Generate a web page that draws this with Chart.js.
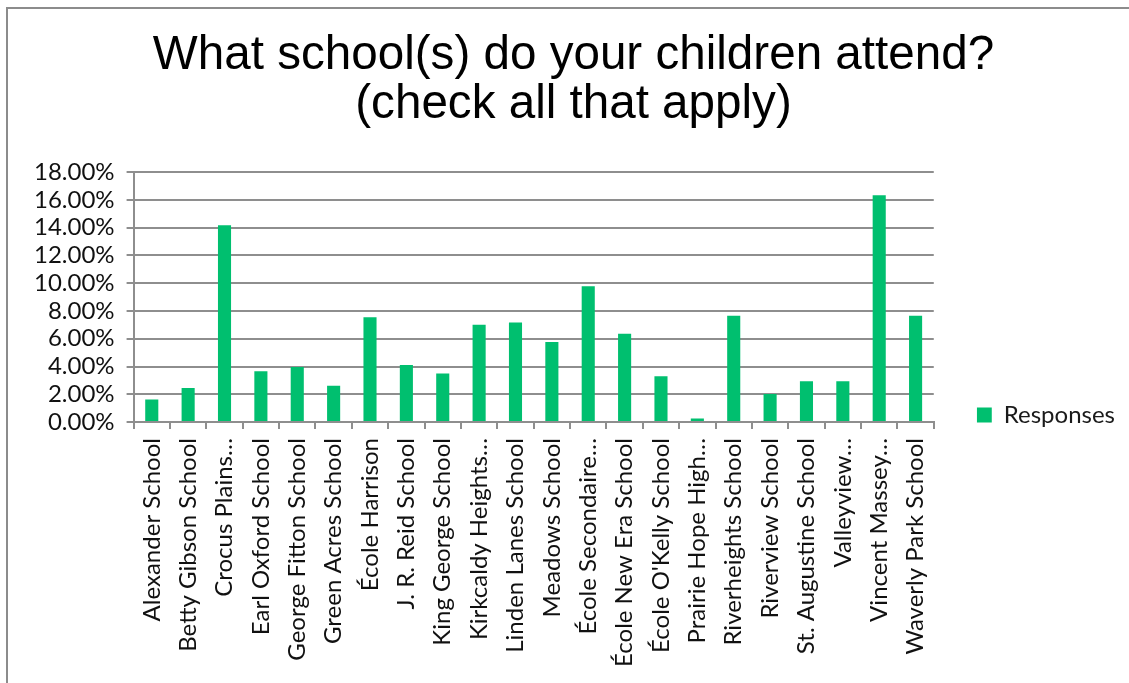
<!DOCTYPE html>
<html>
<head>
<meta charset="utf-8">
<script src="https://cdn.jsdelivr.net/npm/chart.js@4/dist/chart.umd.min.js"></script>
<style>
    html, body { margin: 0; padding: 0; background: #fff; }
    #wrap { position: relative; width: 1129px; height: 683px; overflow: hidden; }
    #frame {
        position: absolute; left: 6px; top: 7px; width: 1200px; height: 800px;
        border-left: 2px solid #8c8c8c; border-top: 2px solid #8c8c8c;
    }
    canvas { position: absolute; left: 0; top: 0; }
</style>
</head>
<body>
<div id="wrap">
    <div id="frame"></div>
    <canvas id="chart" width="1129" height="683"></canvas>
</div>
<script>
const titleLines = ['What school(s) do your children attend?', '(check all that apply)'];
const seriesName = 'Responses';

const schools = [
    'Alexander School', 'Betty Gibson School', 'Crocus Plains…', 'Earl Oxford School',
    'George Fitton School', 'Green Acres School', 'École Harrison', 'J. R. Reid School',
    'King George School', 'Kirkcaldy Heights…', 'Linden Lanes School', 'Meadows School',
    'École Secondaire…', 'École New Era School', "École O'Kelly School", 'Prairie Hope High…',
    'Riverheights School', 'Riverview School', 'St. Augustine School', 'Valleyview…',
    'Vincent Massey…', 'Waverly Park School'
];

// percent of respondents
const responses = [
    1.62, 2.45, 14.17, 3.66, 3.97, 2.62, 7.55, 4.11, 3.49, 7.00, 7.17,
    5.77, 9.77, 6.35, 3.30, 0.25, 7.65, 2.02, 2.94, 2.94, 16.33, 7.65
];

const yMax = 18;
const yStep = 2;

const barColor = '#00bf6f';
const gridColor = '#8e8e8e';
const labelFont = { family: 'Lato', size: 24 };

// excel puts the legend a bit lower than chart.js' "end" alignment
const legendShift = 5;
const nudgeLegend = {
    id: 'nudgeLegend',
    afterLayout(chart) {
        if (!chart.legend) return;
        chart.legend.top += legendShift;
        chart.legend.bottom += legendShift;
    }
};

new Chart(document.getElementById('chart'), {
    type: 'bar',
    data: {
        labels: schools,
        datasets: [{
            label: seriesName,
            data: responses,
            backgroundColor: barColor,
            categoryPercentage: 1,
            barPercentage: 0.36
        }]
    },
    plugins: [nudgeLegend],
    options: {
        responsive: false,
        animation: false,
        layout: { padding: { left: 22, right: 4, top: 0, bottom: 7 } },
        plugins: {
            title: {
                display: true,
                text: titleLines,
                color: '#000',
                font: { family: 'Liberation Sans', size: 47.6, weight: 'normal', lineHeight: 1.03 },
                padding: { top: 31, bottom: 43 }
            },
            legend: {
                position: 'right',
                align: 'end',
                fullSize: false,
                labels: {
                    boxWidth: 15,
                    boxHeight: 15,
                    padding: 0,
                    color: '#1a1a1a',
                    font: labelFont
                }
            },
            tooltip: { enabled: false }
        },
        scales: {
            x: {
                grid: {
                    display: true,
                    drawOnChartArea: false,
                    color: gridColor,
                    lineWidth: 2,
                    tickLength: 7
                },
                border: { color: gridColor, width: 2 },
                ticks: {
                    autoSkip: false,
                    minRotation: 90,
                    maxRotation: 90,
                    padding: 9,
                    color: '#111',
                    font: labelFont
                }
            },
            y: {
                min: 0,
                max: yMax,
                grid: { color: gridColor, lineWidth: 2, tickLength: 7 },
                border: { color: gridColor, width: 2 },
                ticks: {
                    stepSize: yStep,
                    autoSkip: false,
                    padding: 12,
                    color: '#111',
                    font: labelFont,
                    callback: (v) => v.toFixed(2) + '%'
                }
            },
            // empty spacer between plot and legend
            gap: {
                position: 'right',
                grid: { display: false },
                border: { display: false },
                ticks: { display: false },
                afterFit: (s) => { s.width = 43; }
            }
        }
    }
});
</script>
</body>
</html>
